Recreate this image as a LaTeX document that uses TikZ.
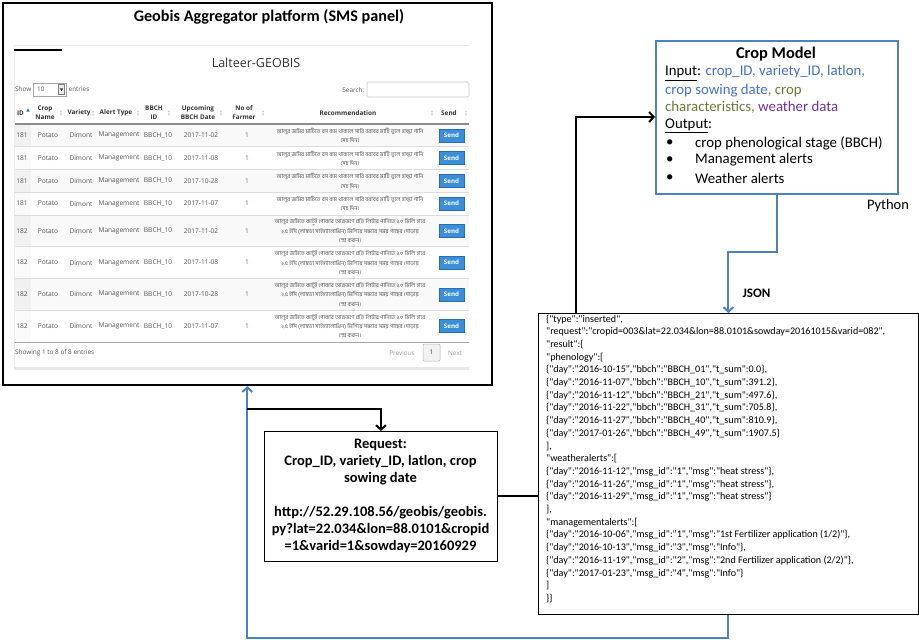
\documentclass[tikz,border=0pt]{standalone}
\usepackage{fontspec}
\setmainfont{Carlito}
\newfontfamily\jsonfont[Ligatures=TeXOff]{Carlito}
\newfontfamily\osans{Open Sans}
\newfontfamily\bnfont[Script=Bengali]{Hind Siliguri}
\usetikzlibrary{arrows.meta}
\definecolor{obl}{HTML}{4F81BD}
\definecolor{inblue}{HTML}{4472C4}
\definecolor{inolive}{HTML}{6E7A3A}
\definecolor{inpurple}{HTML}{7030A0}
\definecolor{tdtext}{HTML}{555555}
\definecolor{thtext}{HTML}{333333}
\definecolor{zebra}{HTML}{F9F9F9}
\definecolor{idodd}{HTML}{F1F1F1}
\definecolor{ideven}{HTML}{FAFAFA}
\definecolor{rowline}{HTML}{DDDDDD}
\definecolor{btnblue}{HTML}{3A8FD8}
\definecolor{btnedge}{HTML}{2A6DB0}
\definecolor{linkblue}{HTML}{337AB7}
\newcommand\recA{আলুর জমির মাটিতে রস কম থাকলে সারি বরাবর মাটি তুলে হাল্কা পানি\\সেচ দিন।}
\newcommand\recB{আলুর জমিতে কাটুই পোকার আক্রমণে প্রতি লিটার পানিতে ২.০ মিলি হারে\\২.৫ ইসি (লাম্বডা সাইহ্যালোথ্রিন) মিশিয়ে সন্ধ্যার সময় গাছের গোড়ায়\\স্প্রে করুন।}
\begin{document}
\begin{tikzpicture}[x=1pt,y=-1pt,
  box/.style={draw=black, line width=0.9pt, fill=white, inner sep=0pt, anchor=north west},
  blackline/.style={draw=black, line width=2pt, -{Straight Barb[length=4.5pt,width=10pt]}},
  blueline/.style={draw=obl, line width=2pt, -{Straight Barb[length=4.5pt,width=10pt]}},
  cmtext/.style={anchor=west, inner sep=0pt, font=\fontsize{14.8}{17}\selectfont},
  td/.style={inner sep=0pt, text=tdtext, font=\osans\fontsize{6.6}{8}\selectfont},
  th/.style={inner sep=0pt, text=thtext, align=center, font=\osans\bfseries\fontsize{6.4}{9}\selectfont},
  rec/.style={inner sep=0pt, text=tdtext, align=center, font=\bnfont\fontsize{5.7}{9.4}\selectfont},
  sendbtn/.style={fill=btnblue, draw=btnedge, line width=0.5pt, minimum width=25pt, minimum height=13pt, inner sep=0pt, text=white, font=\osans\bfseries\fontsize{6.2}{7}\selectfont},
  sorti/.pic={\fill[black!18] (-1.3,-0.6) -- (1.3,-0.6) -- (0,-2.8) -- cycle; \fill[black!18] (-1.3,0.6) -- (1.3,0.6) -- (0,2.8) -- cycle;}
]
\useasboundingbox (0,0) rectangle (919,640);

% ---------- SMS panel ----------
\node[box, line width=2.6pt, minimum width=489pt, minimum height=382pt] (sms) at (1.5,1.5) {};
\node[inner sep=0pt, font=\bfseries\fontsize{16.2}{18}\selectfont] (smstitle) at (269,17) {Geobis Aggregator platform (SMS panel)};

% screenshot frame
\draw[black!9, line width=0.6pt] (14,45) -- (469,45);
\draw[black!7, line width=0.6pt] (14,45) -- (14,369);
\draw[black!9, line width=2.5pt] (14,368.5) -- (469,368.5);
\draw[black, line width=1.6pt] (14,50) -- (62,50);
\node[inner sep=0pt, text=thtext, font=\osans\fontsize{12.5}{14}\selectfont] (lalteer) at (256,63) {Lalteer-GEOBIS};

% show entries / search
\node[td, anchor=west, font=\osans\fontsize{6.4}{8}\selectfont] (show) at (15,89.5) {Show};
\draw[black!35, line width=0.5pt, fill=white] (33,83) rectangle (66,96);
\draw[black!50, line width=0.4pt, fill=black!8] (58.5,84.5) rectangle (64.5,94.5);
\fill[black!80] (59.8,88.3) -- (63.2,88.3) -- (61.5,91.2) -- cycle;
\node[td, anchor=west, font=\osans\fontsize{6.4}{8}\selectfont] (showten) at (37,89.5) {10};
\node[td, anchor=west, font=\osans\fontsize{6.4}{8}\selectfont] (entries) at (68.5,89.5) {entries};
\node[td, anchor=east, font=\osans\fontsize{6.4}{8}\selectfont] (search) at (364.5,90) {Search:};
\draw[black!22, line width=0.6pt, rounded corners=1.5pt, fill=white] (367,82) rectangle (469,97);

% header
\node[th] (hid) at (20.5,113) {ID};
\fill[linkblue] (26.3,111.5) -- (29.7,111.5) -- (28,108.3) -- cycle;
\node[th] (hcrop) at (45,112.5) {Crop\\Name};
\node[th] (hvar) at (79,113) {Variety};
\node[th] (halert) at (116,113) {Alert Type};
\node[th] (hbbch) at (154,112.5) {BBCH\\ID};
\node[th] (hdate) at (198,112.5) {Upcoming\\BBCH Date};
\node[th] (hfarm) at (244,112.5) {No of\\Farmer};
\node[th] (hrec) at (348,113) {Recommendation};
\node[th] (hsend) at (449,113) {Send};
\foreach \sx in {61,93,138,169,221,263,432,466} \pic at (\sx,113) {sorti};

% rows
\foreach \t/\h/\i/\d/\k [count=\n] in {124/22.75/181/2017-11-02/A,146.75/22.75/181/2017-11-08/A,169.5/22.75/181/2017-10-28/A,192.25/22.75/181/2017-11-07/A,215/31.75/182/2017-11-02/B,246.75/31.75/182/2017-11-08/B,278.5/31.75/182/2017-10-28/B,310.25/31.75/182/2017-11-07/B}{
  \pgfmathsetmacro\c{\t+\h/2}
  \pgfmathsetmacro\bt{\t+\h}
  \pgfmathparse{int(mod(\n,2))}
  \ifnum\pgfmathresult=1
    \fill[zebra] (15,\t) rectangle (469,\bt);
    \fill[idodd] (15,\t) rectangle (31,\bt);
  \else
    \fill[ideven] (15,\t) rectangle (31,\bt);
  \fi
  \node[td] (id\n) at (22,\c) {\i};
  \node[td] (crop\n) at (48,\c) {Potato};
  \node[td] (var\n) at (81,\c) {Dimont};
  \node[td] (alert\n) at (119,\c) {Management};
  \node[td] (bbch\n) at (158,\c) {BBCH\_10};
  \node[td] (date\n) at (201,\c) {\d};
  \node[td, text=linkblue] (farm\n) at (247,\c) {1};
  \node[rec] (rec\n) at (350,\c) {\csname rec\k\endcsname};
  \node[sendbtn] (send\n) at (451.5,\c) {Send};
}
\foreach \ry in {146.75,169.5,192.25,215,246.75,278.5,310.25}
  \draw[rowline, line width=0.6pt] (15,\ry) -- (469,\ry);
\draw[black!45, line width=1.1pt] (15,124) -- (469,124);
\draw[black!35, line width=0.8pt] (15,342) -- (469,342);

% footer
\node[td, anchor=west, font=\osans\fontsize{6.4}{8}\selectfont] (showing) at (15,352.5) {Showing 1 to 8 of 8 entries};
\node[td, text=black!40, font=\osans\fontsize{6.4}{8}\selectfont] (prev) at (402,353) {Previous};
\draw[black!30, line width=0.5pt, fill=black!5, rounded corners=1pt] (423,344) rectangle (440,361);
\node[td, text=thtext, font=\osans\fontsize{6.4}{8}\selectfont] (pone) at (431.5,352.5) {1};
\node[td, text=black!40, font=\osans\fontsize{6.4}{8}\selectfont] (next) at (455,353) {Next};

% ---------- Crop model ----------
\node[box, draw=obl, line width=2pt, minimum width=242pt, minimum height=153pt] (crop) at (655,40) {};
\node[inner sep=0pt, font=\bfseries\fontsize{16.4}{18}\selectfont] (croptitle) at (776,54) {Crop Model};
\node[cmtext] (cm1) at (665,73) {\underline{Input}: \textcolor{inblue}{crop\_ID, variety\_ID, latlon,}};
\node[cmtext] (cm2) at (665,91) {\textcolor{inblue}{crop sowing date}\textcolor{inolive}{, crop}};
\node[cmtext] (cm3) at (665,107) {\textcolor{inolive}{characteristics,} \textcolor{inpurple}{weather data}};
\node[cmtext] (cm4) at (665,126) {\underline{Output}:};
\foreach \by/\btx [count=\m] in {143/crop phenological stage (BBCH),160/Management alerts,178/Weather alerts}{
  \node[cmtext] (bul\m) at (666,\by) {\textbullet};
  \node[cmtext] (btx\m) at (695,\by) {\btx};
}
\node[inner sep=0pt, font=\fontsize{14.5}{17}\selectfont] (python) at (888,206) {Python};

% ---------- Request box ----------
\node[box, minimum width=233pt, minimum height=130pt] (req) at (264,431) {};
\node[inner sep=0pt, align=center, font=\bfseries\fontsize{14.5}{17}\selectfont] (reqtext) at (380.5,495.5)
  {Request:\\Crop\_ID, variety\_ID, latlon, crop\\sowing date\\[17pt]http://52.29.108.56/geobis/geobis.\\py?lat=22.034\&lon=88.0101\&cropid\\=1\&varid=1\&sowday=20160929};

% ---------- connectors behind JSON box ----------
\coordinate (k1) at (576,117);
\draw[blackline] (req.east) -| (k1) -- (crop.west |- k1);

% ---------- JSON box ----------
\node[box, minimum width=380pt, minimum height=301pt] (json) at (538,313) {};
\node[inner sep=0pt, anchor=north west, align=left, font=\jsonfont\fontsize{10.1}{12.7}\selectfont] (jsontext) at (546,314.5)
  {\{"type":"inserted",\\
  "request":"cropid=003\&lat=22.034\&lon=88.0101\&sowday=20161015\&varid=082",\\
  "result":\{\\
  "phenology":[\\
  \{"day":"2016-10-15","bbch":"BBCH\_01","t\_sum":0.0\},\\
  \{"day":"2016-11-07","bbch":"BBCH\_10","t\_sum":391.2\},\\
  \{"day":"2016-11-12","bbch":"BBCH\_21","t\_sum":497.6\},\\
  \{"day":"2016-11-22","bbch":"BBCH\_31","t\_sum":705.8\},\\
  \{"day":"2016-11-27","bbch":"BBCH\_40","t\_sum":810.9\},\\
  \{"day":"2017-01-26","bbch":"BBCH\_49","t\_sum":1907.5\}\\
  ],\\
  "weatheralerts":[\\
  \{"day":"2016-11-12","msg\_id":"1","msg":"heat stress"\},\\
  \{"day":"2016-11-26","msg\_id":"1","msg":"heat stress"\},\\
  \{"day":"2016-11-29","msg\_id":"1","msg":"heat stress"\}\\
  ],\\
  "managementalerts":[\\
  \{"day":"2016-10-06","msg\_id":"1","msg":"1st Fertilizer application (1/2)"\},\\
  \{"day":"2016-10-13","msg\_id":"3","msg":"Info"\},\\
  \{"day":"2016-11-19","msg\_id":"2","msg":"2nd Fertilizer application (2/2)"\},\\
  \{"day":"2017-01-23","msg\_id":"4","msg":"Info"\}\\
  ]\\
  \}\}};

% ---------- other connectors ----------
\draw[blueline] (crop.south) -- ++(0,57) -| (json.north);
\node[inner sep=0pt, font=\bfseries\fontsize{13}{15}\selectfont] (jsonlbl) at (756.5,293) {JSON};
\draw[blueline] (json.south) -- ++(0,23) -| (sms.south);
\coordinate (k2) at (247,409);
\draw[blackline] (k2) -| (req.north);

\end{tikzpicture}
\end{document}
